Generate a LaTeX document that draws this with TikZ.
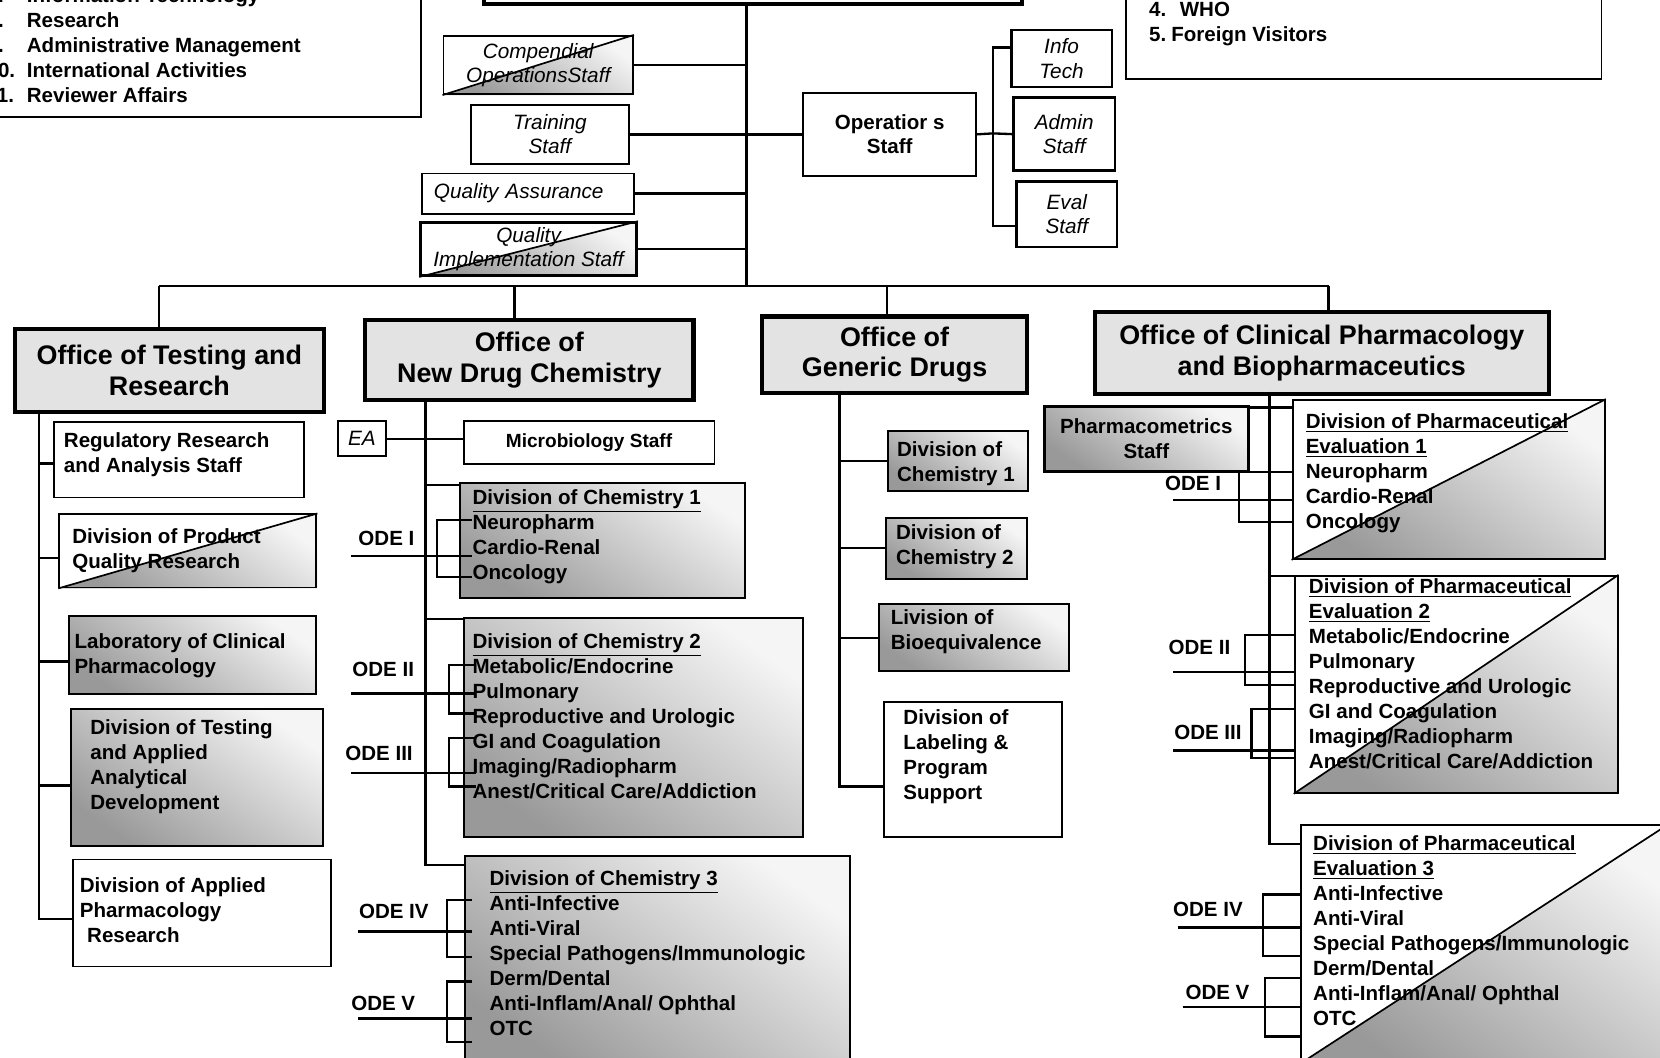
\documentclass[tikz,border=0pt]{standalone}
\usepackage{fontspec}
\setmainfont{Liberation Sans}
\usetikzlibrary{positioning}
\pgfdeclarelayer{background}
\pgfsetlayers{background,main}

\tikzset{
  conn/.style={line width=1.1pt},
  box/.style={draw, line width=0.9pt, anchor=north west, inner sep=0pt},
  office/.style={draw, line width=2pt, fill=gray!22, anchor=north west, inner sep=0pt,
    align=center, font=\fontsize{12.7}{14.5}\selectfont\bfseries},
  staffbox/.style={box, align=center, font=\fontsize{9.8}{11.5}\selectfont\itshape},
  shd/.style={top color=gray!8, bottom color=gray!80, shading angle=-35},
  shadebox/.style={box, shd},
  lst/.style={anchor=north west, inner sep=0pt, align=left,
    font=\fontsize{9.7}{11.8}\selectfont\bfseries},
  odelbl/.style={inner sep=0pt, font=\fontsize{9.7}{11.8}\selectfont\bfseries},
}

\begin{document}
\begin{tikzpicture}[x=0.5pt, y=-0.5pt]
\useasboundingbox (0,0) rectangle (1568,999);
\clip (0,0) rectangle (1568,999);

% top of the chart
\node[box, line width=2pt, minimum width=254pt, minimum height=21pt] (dir) at (455,-40) {};
\node[box, line width=0.6pt, minimum width=208.5pt, minimum height=70pt] (legL) at (-20,-30) {};
\node[lst, below right=8.75pt and 3.5pt of legL.north west] (legLtxt)
  {\makebox[19pt][l]{7.}Information Technology\\
   \makebox[19pt][l]{8.}Research\\
   \makebox[19pt][l]{9.}Administrative Management\\
   \makebox[19pt][l]{10.}International Activities\\
   \makebox[19pt][l]{11.}Reviewer Affairs};
\node[box, line width=0.6pt, minimum width=224.5pt, minimum height=52pt] (legR) at (1063,-30) {};
\node[lst, below right=16pt and 11pt of legR.north west] (legRtxt)
  {\makebox[14.5pt][l]{4.}WHO\\ \makebox[10.5pt][l]{5.}Foreign Visitors};

\node[staffbox, minimum width=89.5pt, minimum height=27.5pt] (comp) at (418,33) {Compendial\\OperationsStaff};
\node[staffbox, minimum width=74.5pt, minimum height=28pt] (train) at (444,98) {Training\\Staff};
\node[staffbox, align=left, text width=89pt, inner xsep=5.5pt, minimum height=19pt] (qa) at (398,163) {Quality Assurance};
\node[staffbox, line width=1.3pt, minimum width=102pt, minimum height=25pt] (qis) at (396,209) {Quality\\Implementation Staff};
\node[box, align=center, font=\fontsize{9.7}{11.5}\selectfont\bfseries,
  minimum width=81.5pt, minimum height=39pt] (ops) at (758,87) {Operatior s\\Staff};
\node[staffbox, line width=1.2pt, minimum width=47.5pt, minimum height=27pt] (infot) at (954,27) {Info\\Tech};
\node[staffbox, line width=1.2pt, minimum width=48pt, minimum height=34.5pt] (admin) at (956,91) {Admin\\Staff};
\node[staffbox, line width=1.2pt, minimum width=47.5pt, minimum height=31pt] (evals) at (959,170) {Eval\\Staff};

% offices
\node[office, minimum width=146pt, minimum height=39pt] (otr) at (12,309) {Office of Testing and\\Research};
\node[office, minimum width=155pt, minimum height=38pt] (ndc) at (343,300) {Office of\\New Drug Chemistry};
\node[office, minimum width=125pt, minimum height=36pt] (ogd) at (718,297) {Office of\\Generic Drugs};
\node[office, minimum width=214.5pt, minimum height=38.5pt] (ocpb) at (1032,293) {Office of Clinical Pharmacology\\and Biopharmaceutics};

% testing and research
\node[box, minimum width=118pt, minimum height=35.5pt] (rras) at (50,398) {};
\node[box, minimum width=121.5pt, minimum height=34.5pt] (dpqr) at (55,485) {};
\node[shadebox, minimum width=117pt, minimum height=37pt] (lcp) at (64,581) {};
\node[shadebox, minimum width=119pt, minimum height=64.5pt] (dtaad) at (66,669) {};
\node[box, minimum width=122pt, minimum height=50.5pt] (dapr) at (68,811) {};
\node[lst, below right=5pt and 5pt of rras.north west] (rrastxt) {Regulatory Research\\and Analysis Staff};
\node[lst, below right=7pt and 6.5pt of dpqr.north west] (dpqrtxt) {Division of Product\\Quality Research};
\node[lst, below right=8.5pt and 3pt of lcp.north west] (lcptxt) {Laboratory of Clinical\\Pharmacology};
\node[lst, below right=5pt and 9.5pt of dtaad.north west] (dtaadtxt) {Division of Testing\\and Applied\\Analytical\\Development};
\node[lst, below right=9pt and 3.5pt of dapr.north west] (daprtxt) {Division of Applied\\Pharmacology\\\hspace*{3.5pt}Research};

% new drug chemistry
\node[staffbox, minimum width=23pt, minimum height=16.5pt] (ea) at (318,397) {EA};
\node[box, font=\fontsize{9}{11}\selectfont\bfseries, minimum width=118.5pt, minimum height=20pt] (micro) at (437,397) {Microbiology Staff};
\node[shadebox, minimum width=134.5pt, minimum height=54.5pt] (ndc1) at (434,455) {};
\node[shadebox, minimum width=160.5pt, minimum height=103.5pt] (ndc2) at (437,583) {};
\node[shadebox, minimum width=182pt, minimum height=97.5pt] (ndc3) at (438,808) {};
\node[lst, below right=3.5pt and 6pt of ndc1.north west] (ndc1txt)
  {\underline{Division of Chemistry 1}\\Neuropharm\\Cardio-Renal\\Oncology};
\node[lst, below right=7.5pt and 4.5pt of ndc2.north west] (ndc2txt)
  {\underline{Division of Chemistry 2}\\Metabolic/Endocrine\\Pulmonary\\Reproductive and Urologic\\GI and Coagulation\\Imaging/Radiopharm\\Anest/Critical Care/Addiction};
\node[lst, below right=7pt and 12pt of ndc3.north west] (ndc3txt)
  {\underline{Division of Chemistry 3}\\Anti-Infective\\Anti-Viral\\Special Pathogens/Immunologic\\Derm/Dental\\Anti-Inflam/Anal/ Ophthal\\OTC};

% generic drugs
\node[shadebox, minimum width=66pt, minimum height=28.5pt] (ogd1) at (838,406) {};
\node[shadebox, minimum width=66.5pt, minimum height=29pt] (ogd2) at (836,488) {};
\node[shadebox, minimum width=90pt, minimum height=31.5pt] (ogdbe) at (829,570) {};
\node[box, minimum width=84pt, minimum height=64pt] (ogdlab) at (834,662) {};
\node[lst, below right=5.5pt and 4.5pt of ogd1.north west] (ogd1txt) {Division of\\Chemistry 1};
\node[lst, below right=3.5pt and 5pt of ogd2.north west] (ogd2txt) {Division of\\Chemistry 2};
\node[lst, below right=2.5pt and 6pt of ogdbe.north west] (ogdbetxt) {Livision of\\Bioequivalence};
\node[lst, below right=4pt and 9.5pt of ogdlab.north west] (ogdlabtxt) {Division of\\Labeling \&\\Program\\Support};

% clinical pharmacology
\node[shadebox, line width=1.3pt, align=center, font=\fontsize{9.7}{11.8}\selectfont\bfseries,
  minimum width=96.5pt, minimum height=30.5pt] (pmx) at (985,383) {Pharmacometrics\\Staff};
\node[box, minimum width=147.5pt, minimum height=75pt] (dpe1) at (1220,377) {};
\node[box, minimum width=152.5pt, minimum height=102.5pt] (dpe2) at (1222,543) {};
\node[box, minimum width=173.5pt, minimum height=112.5pt] (dpe3) at (1228,778) {};
\node[lst, below right=6.5pt and 6.5pt of dpe1.north west] (dpe1txt)
  {\underline{Division of Pharmaceutical}\\\underline{Evaluation 1}\\Neuropharm\\Cardio-Renal\\Oncology};
\node[lst, below right=1.5pt and 7pt of dpe2.north west] (dpe2txt)
  {\underline{Division of Pharmaceutical}\\\underline{Evaluation 2}\\Metabolic/Endocrine\\Pulmonary\\Reproductive and Urologic\\GI and Coagulation\\Imaging/Radiopharm\\Anest/Critical Care/Addiction};
\node[lst, below right=5.5pt and 6pt of dpe3.north west] (dpe3txt)
  {\underline{Division of Pharmaceutical}\\\underline{Evaluation 3}\\Anti-Infective\\Anti-Viral\\Special Pathogens/Immunologic\\Derm/Dental\\Anti-Inflam/Anal/ Ophthal\\OTC};

% half shaded boxes
\begin{pgfonlayer}{background}
\foreach \b in {comp,qis,dpqr,dpe1,dpe2,dpe3}{
  \shade[shd] (\b.north east) -- (\b.south west) -- (\b.south east) -- cycle;
  \draw[line width=0.8pt] (\b.north east) -- (\b.south west);
}
\end{pgfonlayer}

% staff lines
\coordinate (spine) at (705,270);
\draw[conn] (dir.south -| spine) -- (spine);
\draw[conn] (comp.east) -- (comp.east -| spine);
\draw[conn] (train.east) -- (ops.west);
\draw[conn] (qa.east) -- (qa.east -| spine);
\draw[conn] (qis.east) -- (qis.east -| spine);
\coordinate (opsj) at (938,126);
\draw[conn] (ops.east) -- (opsj) -- (admin.west);
\draw[conn] ([yshift=-9pt]infot.north west) -| (opsj) |- ([yshift=10.5pt]evals.south west);

% bus to the offices
\coordinate (busL) at (150,270);
\coordinate (busR) at (1255,270);
\coordinate (dndc) at (486,270);
\coordinate (dogd) at (838,270);
\draw[conn] (busL) -- (busR);
\draw[conn] (busL) -- (busL |- otr.north);
\draw[conn] (dndc) -- (dndc |- ndc.north);
\draw[conn] (dogd) -- (dogd |- ogd.north);
\draw[conn] (busR) -- (busR |- ocpb.north);

% office trees
\coordinate (otrv) at (37,387);
\draw[conn] (otrv) |- ([yshift=-2.75pt]dapr.west);
\foreach \b/\s in {rras/-1.75,dpqr/-3.25,lcp/-3,dtaad/-3.75}{
  \coordinate (c-\b) at ([yshift=\s pt]\b.west);
  \draw[conn] (c-\b) -- (c-\b -| otrv);
}

\coordinate (ndcv) at (402,376);
\draw[conn] (ndcv) |- ([yshift=-4.5pt]ndc3.north west);
\draw[conn] (ea.east) -- (ea.east -| micro.west);
\foreach \b/\s in {ndc1/-1.5,ndc2/-1}{
  \coordinate (c-\b) at ([yshift=\s pt]\b.north west);
  \draw[conn] (c-\b) -- (c-\b -| ndcv);
}

\coordinate (ogdv) at (793,369);
\draw[conn] (ogdv) |- ([yshift=-8pt]ogdlab.west);
\foreach \b in {ogd1,ogd2,ogdbe}
  \draw[conn] (\b.west) -- (\b.west -| ogdv);

\coordinate (ocpbv) at (1199,370);
\draw[conn] (ocpbv) |- ([yshift=-9.5pt]dpe3.north west);
\coordinate (c-pmx) at ([yshift=-1pt]pmx.north east);
\draw[conn] (c-pmx) -- (c-pmx -| dpe1.west);
\coordinate (c-dpe2) at ([yshift=-0.5pt]dpe2.north west);
\draw[conn] (c-dpe2) -- (c-dpe2 -| ocpbv);

% ODE brackets
\foreach \nm/\lab/\lx/\ly/\xs/\yl/\xe/\xb/\ya/\yb in {
  n1/ODE I/365/509/332/525/446/413/491/545,
  n2/ODE II/362/632/332/655/450/424/628/674,
  n3/ODE III/358/712/332/730/450/424/697/743,
  n4/ODE IV/372/861/338/880/446/422/850/904,
  n5/ODE V/362/948/338/962/446/422/927/984,
  p1/ODE I/1127/457/1108/472/1222/1170/446/493,
  p2/ODE II/1133/612/1108/635/1224/1176/600/647,
  p3/ODE III/1141/692/1108/709/1224/1182/670/716,
  p4/ODE IV/1141/859/1113/876/1230/1193/845/903,
  p5/ODE V/1150/937/1117/951/1230/1195/924/979}{
  \node[odelbl] (ode-\nm) at (\lx,\ly) {\lab};
  \coordinate (odeS-\nm) at (\xs,\yl);
  \coordinate (odeE-\nm) at (\xe,\yl);
  \draw[conn] (odeS-\nm) -- (odeE-\nm);
  \draw[conn] (\xe,\ya) -| (\xb,\yb) -- (\xe,\yb);
}
\end{tikzpicture}
\end{document}
